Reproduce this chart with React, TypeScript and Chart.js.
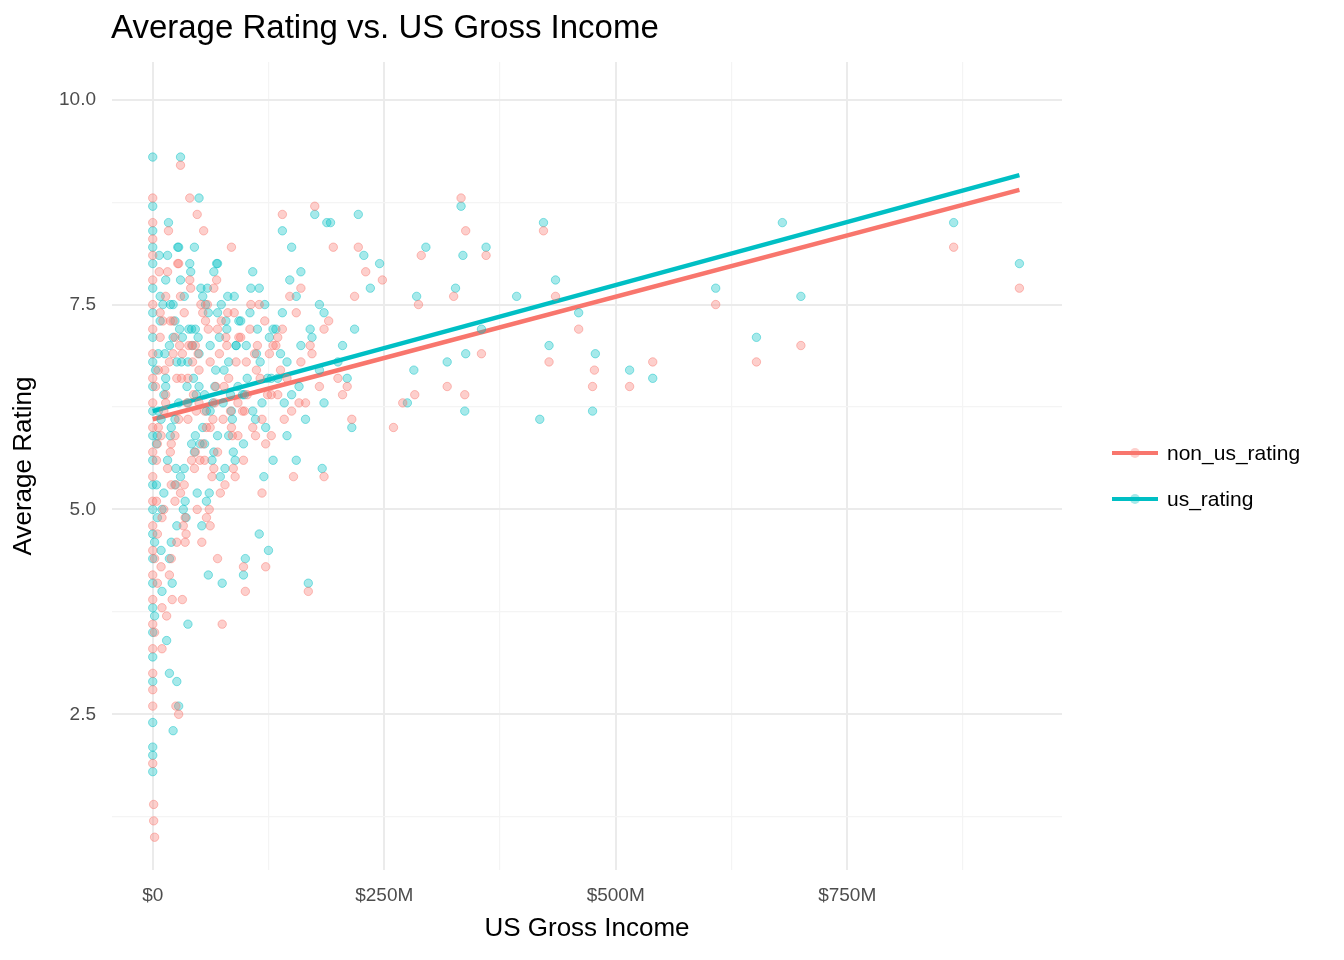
import { useEffect, useRef } from 'react'
import { Chart, registerables } from 'chart.js'

Chart.register(...registerables);

// US gross income in $M, paired with ratings
const nonUsX = [936, 865, 700, 652, 608, 540, 515, 475, 477, 460, 422, 428, 435, 360, 355, 338, 333, 337, 325, 318, 290, 287, 283, 270, 260, 248, 230, 222, 218, 215, 210, 205, 195, 190, 185, 175, 168, 165, 160, 152, 140, 135, 128, 122, 118, 110, 100, 98, 92, 85, 75, 70, 62, 55, 48, 40, 30, 28, 25, 32, 35, 20, 15, 10, 5, 2, 1, 1, 0, 0,
  0, 0, 0, 0, 0, 0, 0, 0, 0, 0, 0, 0, 0, 0, 0, 0, 0, 0, 0, 0, 0, 0,
  3, 5, 8, 10, 12, 14, 16, 18, 20, 22, 24, 26, 28, 30, 32, 34, 36, 38, 40, 42, 44, 46, 48, 50, 52, 54, 56, 58, 60, 62, 64, 66, 68, 70, 72, 74, 76, 78, 80, 82, 84, 86, 88, 90, 92, 95, 98, 102, 105, 108, 112, 115, 118, 122, 126, 130, 135, 140, 145, 150, 155, 160, 170, 180,
  4, 7, 9, 13, 17, 21, 25, 29, 33, 37, 41, 45, 49, 53, 57, 61, 65, 69, 73, 77, 81, 85, 89, 93, 97, 101, 106, 111, 116, 121, 128, 133, 142, 148, 158, 172, 185, 200,
  6, 11, 19, 27, 35, 43, 51, 59, 67, 79, 87, 99, 113, 124, 138,
  2, 4, 6, 8, 10, 12, 14, 16, 18, 20, 22, 24, 26, 28, 30, 34, 38, 42, 46, 50, 54, 58, 62, 66, 70, 2, 5, 9, 14, 19, 24, 31, 39, 47, 56];
const nonUsY = [7.7, 8.2, 7.0, 6.8, 7.5, 6.8, 6.5, 6.5, 6.7, 7.2, 8.4, 6.8, 7.6, 8.1, 6.9, 8.4, 8.8, 6.4, 7.6, 6.5, 8.1, 7.5, 6.4, 6.3, 6.0, 7.8, 7.9, 8.2, 7.6, 6.1, 6.5, 6.4, 8.2, 7.3, 5.4, 8.7, 4.0, 6.3, 7.7, 5.4, 8.6, 7.1, 5.9, 4.3, 5.2, 6.9, 4.0, 4.3, 5.9, 8.2, 3.6, 4.4, 4.8, 8.4, 8.6, 8.8, 9.2, 2.5, 2.6, 3.9, 4.6, 5.3, 3.7, 3.3, 4.1, 1.0, 1.2, 1.4, 1.9, 2.8,
  2.6, 3.0, 3.3, 3.6, 3.9, 4.2, 4.5, 4.8, 5.1, 5.4, 5.7, 6.0, 6.3, 6.6, 6.9, 7.2, 7.5, 7.8, 8.1, 8.3, 8.5, 8.8,
  6.5, 5.8, 7.1, 4.9, 6.2, 7.6, 5.5, 6.8, 4.4, 7.3, 5.9, 6.6, 8.0, 5.2, 6.9, 7.4, 4.7, 6.1, 7.8, 5.6, 6.4, 7.0, 5.0, 6.7, 7.5, 5.8, 6.2, 4.9, 7.2, 6.0, 5.4, 7.7, 6.5, 5.7, 6.9, 7.3, 6.1, 5.3, 7.0, 6.6, 6.2, 5.9, 7.4, 6.8, 6.3, 7.1, 5.6, 6.4, 7.2, 6.0, 6.7, 7.5, 6.1, 5.8, 6.9, 7.0, 6.4, 7.2, 6.6, 6.2, 7.4, 6.8, 7.0, 6.5,
  5.1, 7.9, 4.3, 6.7, 8.4, 3.9, 5.3, 7.0, 4.8, 6.3, 7.7, 5.5, 6.9, 4.6, 7.3, 5.0, 6.1, 7.8, 5.2, 6.5, 7.4, 6.0, 5.4, 7.1, 6.2, 6.8, 7.5, 5.9, 6.6, 7.3, 6.4, 7.0, 6.1, 7.6, 6.3, 6.9, 7.2, 6.6,
  6.0, 7.3, 5.7, 8.0, 4.9, 6.8, 5.6, 7.5, 6.3, 7.1, 5.5, 6.2, 7.0, 6.4, 6.7,
  4.4, 5.6, 6.7, 7.4, 3.8, 5.0, 6.3, 7.9, 4.2, 5.8, 6.9, 7.1, 4.6, 6.1, 7.6, 5.3, 6.6, 7.0, 5.7, 6.3, 7.4, 6.0, 6.8, 5.5, 7.2, 3.5, 4.7, 5.9, 6.4, 7.3, 5.1, 6.6, 7.0, 6.2, 5.6];

const usX = [936, 865, 700, 680, 652, 608, 540, 515, 478, 475, 460, 435, 428, 422, 418, 393, 360, 355, 338, 337, 335, 333, 327, 318, 295, 285, 282, 275, 245, 235, 228, 222, 218, 215, 210, 205, 192, 188, 185, 183, 180, 175, 168, 165, 160, 155, 150, 145, 140, 130, 125, 120, 115, 108, 100, 98, 90, 82, 75, 70, 60, 50, 45, 38, 30, 28, 26, 22, 18, 15, 0, 0, 0, 0,
  0, 0, 0, 0, 0, 0, 0, 0, 0, 0, 0, 0, 0, 0, 0, 0, 0, 0, 0, 0, 0, 0,
  3, 5, 8, 10, 12, 14, 16, 18, 20, 22, 24, 26, 28, 30, 32, 34, 36, 38, 40, 42, 44, 46, 48, 50, 52, 54, 56, 58, 60, 62, 64, 66, 68, 70, 72, 74, 76, 78, 80, 82, 84, 86, 88, 90, 92, 95, 98, 102, 105, 108, 112, 115, 118, 122, 126, 130, 135, 140, 145, 150, 155, 160, 170, 180,
  4, 7, 9, 13, 17, 21, 25, 29, 33, 37, 41, 45, 49, 53, 57, 61, 65, 69, 73, 77, 81, 85, 89, 93, 97, 101, 106, 111, 116, 121, 128, 133, 142, 148, 158, 172, 185, 200,
  6, 11, 19, 27, 35, 43, 51, 59, 67, 79, 87, 99, 113, 124, 138,
  2, 4, 6, 8, 10, 12, 14, 16, 18, 20, 22, 24, 26, 28, 30, 34, 38, 42, 46, 50, 54, 58, 62, 66, 70, 2, 5, 9, 14, 19, 24, 31, 39, 47, 56];
const usY = [8.0, 8.5, 7.6, 8.5, 7.1, 7.7, 6.6, 6.7, 6.9, 6.2, 7.4, 7.8, 7.0, 8.5, 6.1, 7.6, 8.2, 7.2, 6.9, 6.2, 8.1, 8.7, 7.7, 6.8, 8.2, 7.6, 6.7, 6.3, 8.0, 7.7, 8.1, 8.6, 7.2, 6.0, 6.6, 7.0, 8.5, 8.5, 6.3, 5.5, 7.5, 8.6, 4.1, 6.1, 7.9, 5.6, 8.2, 5.9, 8.4, 5.6, 4.5, 5.4, 4.7, 7.9, 4.4, 4.2, 7.0, 5.9, 4.1, 8.0, 4.2, 8.8, 8.2, 3.6, 9.3, 2.6, 2.9, 2.3, 3.0, 3.4, 9.3, 1.8, 2.0, 2.1,
  2.4, 2.9, 3.2, 3.5, 3.8, 4.1, 4.4, 4.7, 5.0, 5.3, 5.6, 5.9, 6.2, 6.5, 6.8, 7.1, 7.4, 7.7, 8.0, 8.2, 8.4, 8.7,
  6.7, 5.9, 7.3, 5.0, 6.4, 7.8, 5.6, 7.0, 4.6, 7.5, 6.1, 6.8, 8.2, 5.4, 7.1, 7.6, 4.9, 6.3, 8.0, 5.8, 6.6, 7.2, 5.2, 6.9, 7.7, 6.0, 6.4, 5.1, 7.4, 6.2, 5.6, 7.9, 6.7, 5.9, 7.1, 7.5, 6.3, 5.5, 7.2, 6.8, 6.4, 6.1, 7.6, 7.0, 6.5, 7.3, 5.8, 6.6, 7.4, 6.2, 6.9, 7.7, 6.3, 6.0, 7.1, 7.2, 6.6, 7.4, 6.8, 6.4, 7.6, 7.0, 7.2, 6.7,
  5.3, 8.1, 4.5, 6.9, 8.5, 4.1, 5.5, 7.2, 5.0, 6.5, 7.9, 5.7, 7.1, 4.8, 7.5, 5.2, 6.3, 8.0, 5.4, 6.7, 7.6, 6.2, 5.6, 7.3, 6.4, 7.0, 7.7, 6.1, 6.8, 7.5, 6.6, 7.2, 6.3, 7.8, 6.5, 7.1, 7.4, 6.8,
  6.2, 7.5, 5.9, 8.2, 5.1, 7.0, 5.8, 7.7, 6.5, 7.3, 5.7, 6.4, 7.2, 6.6, 6.9,
  4.6, 5.8, 6.9, 7.6, 4.0, 5.2, 6.5, 8.1, 4.4, 6.0, 7.1, 7.3, 4.8, 6.3, 7.8, 5.5, 6.8, 7.2, 5.9, 6.5, 7.6, 6.2, 7.0, 5.7, 7.4, 3.7, 4.9, 6.1, 6.6, 7.5, 5.3, 6.8, 7.2, 6.4, 5.8];

// fitted lines: [x start, x end] and ratings at those ends
const fitX = [0, 936];
const nonUsFit = [6.1, 8.9];
const usFit = [6.2, 9.08];

const RED = '#F8766D';
const TEAL = '#00BFC4';
const FONT = 'Liberation Sans, Arial, sans-serif';

export default function App() {
  const canvasRef = useRef<HTMLCanvasElement>(null);

  useEffect(() => {
    document.body.style.margin = '0';
    if (!canvasRef.current) return;
    const tickColor = '#4d4d4d';
    const chart = new Chart(canvasRef.current, {
      type: 'scatter',
      data: {
        datasets: [
          {
            label: 'non_us_rating',
            data: nonUsX.map((x, i) => ({ x, y: nonUsY[i] })),
            backgroundColor: 'rgba(248,118,109,0.35)',
            borderColor: 'rgba(248,118,109,0.45)',
            borderWidth: 1,
            pointRadius: 4.2,
          },
          {
            label: 'us_rating',
            data: usX.map((x, i) => ({ x, y: usY[i] })),
            backgroundColor: 'rgba(0,191,196,0.35)',
            borderColor: 'rgba(0,191,196,0.45)',
            borderWidth: 1,
            pointRadius: 4.2,
          },
          {
            type: 'line',
            label: 'non_us_fit',
            data: fitX.map((x, i) => ({ x, y: nonUsFit[i] })),
            borderColor: RED,
            borderWidth: 4.5,
            pointRadius: 0,
          },
          {
            type: 'line',
            label: 'us_fit',
            data: fitX.map((x, i) => ({ x, y: usFit[i] })),
            borderColor: TEAL,
            borderWidth: 4.5,
            pointRadius: 0,
          },
        ],
      },
      options: {
        responsive: false,
        animation: false,
        layout: { padding: { top: 62, right: 282, left: 0, bottom: 0 } },
        plugins: { legend: { display: false }, tooltip: { enabled: false } },
        scales: {
          x: {
            type: 'linear',
            min: -44,
            max: 982,
            afterBuildTicks: (s: any) => { s.ticks = [0, 125, 250, 375, 500, 625, 750, 875].map(v => ({ value: v })); },
            afterFit: (s: any) => { s.height = 90; },
            ticks: {
              color: tickColor,
              font: { family: FONT, size: 19 },
              padding: 14,
              callback: (v: any) => (v % 250 === 0 ? (v === 0 ? '$0' : `$${v}M`) : ''),
            },
            grid: {
              color: (c: any) => (c.tick && c.tick.value % 250 === 0 ? '#ebebeb' : '#f4f4f4'),
              lineWidth: (c: any) => (c.tick && c.tick.value % 250 === 0 ? 2 : 1.2),
              drawTicks: false,
            },
            border: { display: false },
            title: { display: true, text: 'US Gross Income', color: '#000', font: { family: FONT, size: 26 }, padding: { top: 0, bottom: 16 } },
          },
          y: {
            min: 0.6,
            max: 10.46,
            afterBuildTicks: (s: any) => { s.ticks = [1.25, 2.5, 3.75, 5, 6.25, 7.5, 8.75, 10].map(v => ({ value: v })); },
            afterFit: (s: any) => { s.width = 112; },
            ticks: {
              color: tickColor,
              font: { family: FONT, size: 19 },
              padding: 16,
              callback: (v: any) => (v % 2.5 === 0 ? Number(v).toFixed(1) : ''),
            },
            grid: {
              color: (c: any) => (c.tick && c.tick.value % 2.5 === 0 ? '#ebebeb' : '#f4f4f4'),
              lineWidth: (c: any) => (c.tick && c.tick.value % 2.5 === 0 ? 2 : 1.2),
              drawTicks: false,
            },
            border: { display: false },
            title: { display: true, text: 'Average Rating', color: '#000', font: { family: FONT, size: 26 }, padding: { top: 8, bottom: 0 } },
          },
        },
      },
    });
    return () => chart.destroy();
  }, []);

  const legendItem = (color: string, label: string, top: number) => (
    <div style={{ position: 'absolute', left: 1110, top, display: 'flex', alignItems: 'center', height: 24 }}>
      <div style={{ position: 'relative', width: 50, height: 24 }}>
        <div style={{ position: 'absolute', left: 2, right: 2, top: 10, height: 4, background: color }} />
        <div style={{ position: 'absolute', left: 20, top: 7, width: 10, height: 10, borderRadius: 5, background: color, opacity: 0.35 }} />
      </div>
      <span style={{ marginLeft: 7, fontSize: 21, color: '#000' }}>{label}</span>
    </div>
  );

  return (
    <div style={{ position: 'relative', width: 1344, height: 960, background: '#fff', fontFamily: FONT }}>
      <canvas ref={canvasRef} width={1344} height={960} style={{ position: 'absolute', left: 0, top: 0 }} />
      <div style={{ position: 'absolute', left: 111, top: 8, fontSize: 33, color: '#000' }}>Average Rating vs. US Gross Income</div>
      {legendItem(RED, 'non_us_rating', 441)}
      {legendItem(TEAL, 'us_rating', 487)}
    </div>
  );
}
